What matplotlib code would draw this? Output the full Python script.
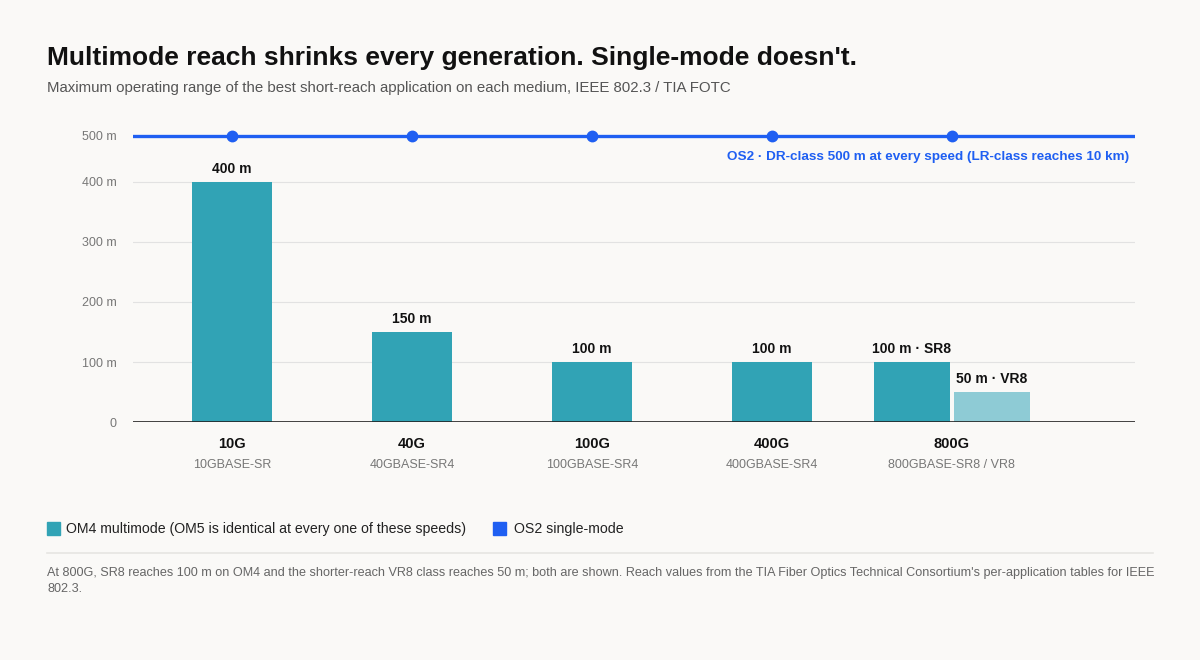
import matplotlib
matplotlib.use("Agg")
import matplotlib.pyplot as plt
import numpy as np
from matplotlib.patches import Rectangle
from matplotlib.transforms import offset_copy

speeds = ["10G", "40G", "100G", "400G", "800G"]
applications = ["10GBASE-SR", "40GBASE-SR4", "100GBASE-SR4", "400GBASE-SR4", "800GBASE-SR8 / VR8"]
om4_reach = [400, 150, 100, 100, 100]
om4_labels = ["400 m", "150 m", "100 m", "100 m", "100 m · SR8"]
vr8_reach = 50
vr8_label = "50 m · VR8"
os2_reach = [500, 500, 500, 500, 500]

teal = "#31A3B5"
teal_light = "#8ECBD5"
blue = "#1F5FF2"
bg = "#FAF9F7"

plt.rcParams["font.family"] = ["Liberation Sans", "DejaVu Sans"]

# the band above 400 m is drawn compressed in the original
k = 46 / 60


def fwd(y):
    y = np.asarray(y, dtype=float)
    return np.where(y <= 400, y, 400 + (y - 400) * k)


def inv(y):
    y = np.asarray(y, dtype=float)
    return np.where(y <= 400, y, 400 + (y - 400) / k)


fig = plt.figure(figsize=(12, 6.6), dpi=100, facecolor=bg)
ax = fig.add_axes([0.1108, 0.3606, 0.835, 0.4473])
ax.set_facecolor(bg)
ax.set_yscale("function", functions=(fwd, inv))

x = list(range(len(speeds)))
widths = [0.445] * 4 + [0.42]
offsets = [0, 0, 0, 0, -0.222]
bar_x = [xi + o for xi, o in zip(x, offsets)]
ax.bar(bar_x, om4_reach, width=widths, color=teal, zorder=2)
ax.bar(x[-1] + 0.222, vr8_reach, width=0.42, color=teal_light, zorder=2)

for bx, v, lab in zip(bar_x, om4_reach, om4_labels):
    ax.annotate(lab, (bx, v), xytext=(0, 4), textcoords="offset points",
                ha="center", va="bottom", fontsize=10, fontweight="bold", color="#111111")
ax.annotate(vr8_label, (x[-1] + 0.222, vr8_reach), xytext=(0, 4), textcoords="offset points",
            ha="center", va="bottom", fontsize=10, fontweight="bold", color="#111111")

# OS2 line across the whole plot
ax.axhline(os2_reach[0], color=blue, lw=2.4, zorder=3)
ax.plot(x, os2_reach, "o", color=blue, ms=7.5, zorder=4)
ax.annotate("OS2 · DR-class 500 m at every speed (LR-class reaches 10 km)",
            (1.0, os2_reach[0]), xycoords=("axes fraction", "data"),
            xytext=(-4, -10.5), textcoords="offset points", ha="right", va="top",
            fontsize=9.7, fontweight="bold", color=blue)

ax.set_xlim(-0.55, 5.017)
ax.set_ylim(0, 520)
yt = [0, 100, 200, 300, 400, 500]
ax.set_yticks(yt)
ax.set_yticklabels(["0" if v == 0 else f"{v} m" for v in yt], color="#777777", fontsize=9)
ax.yaxis.set_minor_locator(plt.NullLocator())
ax.tick_params(axis="y", length=0, pad=12)
ax.set_xticks([])
for v in yt[1:-1]:
    ax.axhline(v, color="#E2E2E2", lw=0.8, zorder=1)
ax.axhline(0, color="#222222", lw=1.2, zorder=3)
for s in ax.spines.values():
    s.set_visible(False)

trans = ax.get_xaxis_transform()
for xi, sp, app in zip(x, speeds, applications):
    ax.text(xi, 0, sp, transform=offset_copy(trans, fig=fig, x=0, y=-15.5, units="points"),
            ha="center", va="center", fontsize=10.5, fontweight="bold", color="#111111")
    ax.text(xi, 0, app, transform=offset_copy(trans, fig=fig, x=0, y=-31, units="points"),
            ha="center", va="center", fontsize=9, color="#777777")

fig.text(47 / 1200, 1 - 58 / 660, "Multimode reach shrinks every generation. Single-mode doesn't.",
         fontsize=19, fontweight="bold", color="#111111", va="center")
fig.text(47 / 1200, 1 - 88 / 660,
         "Maximum operating range of the best short-reach application on each medium, IEEE 802.3 / TIA FOTC",
         fontsize=10.8, color="#555555", va="center")

# legend
fig.add_artist(Rectangle((47 / 1200, 1 - 535 / 660), 13 / 1200, 13 / 660,
                         transform=fig.transFigure, color=teal))
fig.text(66 / 1200, 1 - 529 / 660, "OM4 multimode (OM5 is identical at every one of these speeds)",
         fontsize=10.2, color="#222222", va="center")
fig.add_artist(Rectangle((493 / 1200, 1 - 535 / 660), 13 / 1200, 13 / 660,
                         transform=fig.transFigure, color=blue))
fig.text(514 / 1200, 1 - 529 / 660, "OS2 single-mode", fontsize=10.2, color="#222222", va="center")

fig.add_artist(plt.Line2D([47 / 1200, 1153 / 1200], [1 - 553 / 660] * 2,
                          transform=fig.transFigure, color="#E6E5E2", lw=1.2))
fig.text(47 / 1200, 1 - 567 / 660,
         "At 800G, SR8 reaches 100 m on OM4 and the shorter-reach VR8 class reaches 50 m; both are shown. "
         "Reach values from the TIA Fiber Optics Technical Consortium's per-application tables for IEEE\n802.3.",
         fontsize=9.1, color="#666666", va="top", linespacing=1.4)

fig.savefig("out.png", dpi=100, facecolor=bg)
